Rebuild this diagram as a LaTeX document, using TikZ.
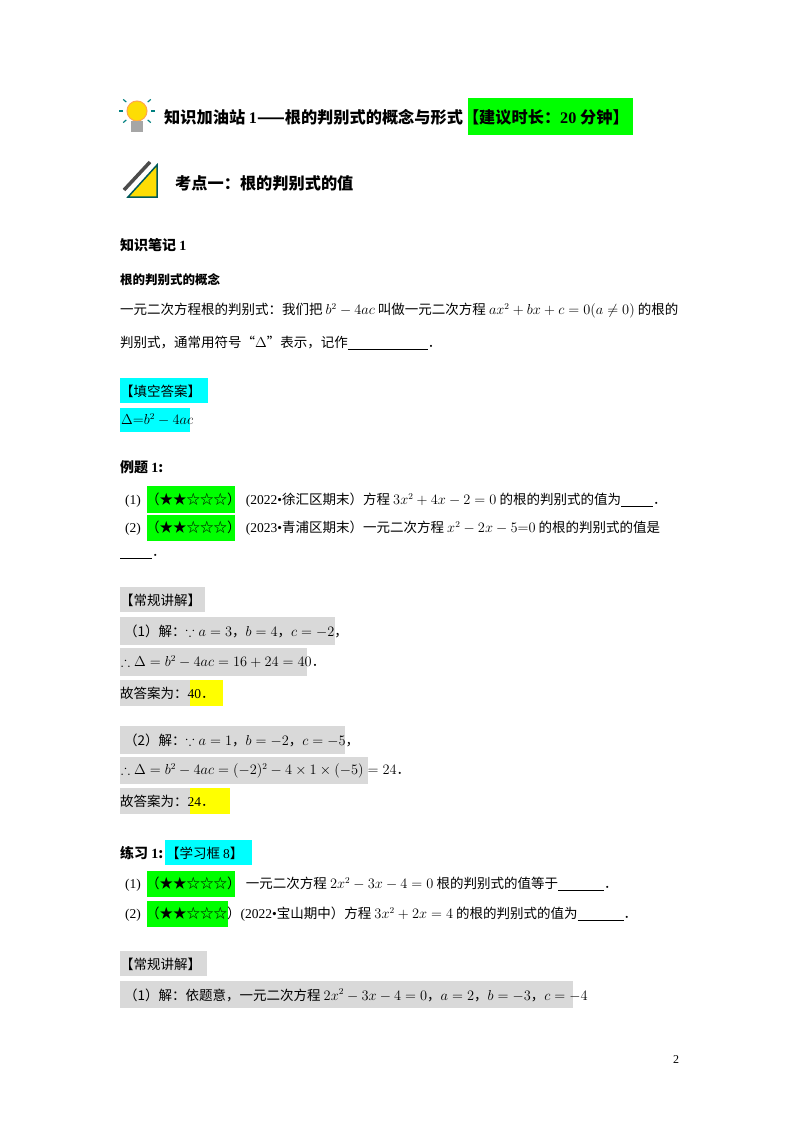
\documentclass[tikz,border=0pt]{standalone}
\usepackage{amssymb}
\usepackage{fontspec}
\setmainfont{Noto Sans CJK SC}
\newfontfamily\serifx{Liberation Serif}
\usepackage{xcolor}
\definecolor{hlgreen}{RGB}{0,255,0}
\definecolor{hlcyan}{RGB}{0,255,255}
\definecolor{hlgray}{RGB}{217,217,217}
\definecolor{hlyellow}{RGB}{255,255,0}
\begin{document}
\begin{tikzpicture}[x=1pt,y=-1pt,
  txt/.style={anchor=west,inner sep=0pt,font=\fontsize{13.5}{15}\selectfont},
  bold/.style={txt,font=\fontsize{14}{16}\selectfont\bfseries},
  big/.style={txt,font=\fontsize{16.2}{18}\selectfont\bfseries}]
\useasboundingbox[fill=white] (0,0) rectangle (800,1132);
% title
\fill[hlgreen] (468,98) rectangle (633,135);
\node[draw=orange!70,fill=yellow!80!orange,circle,minimum size=20pt,line width=1pt] (bulb) at (137,111) {};
\fill[gray!70] (131,121) rectangle (143,132);
\foreach \a in {0,40,140,180,220,320}{\draw[teal,line width=1.2pt] (137,111) ++(\a:14) -- ++(\a:4);}
\node[big] (t1) at (164,117) {知识加油站 {\serifx\bfseries 1}——根的判别式的概念与形式【建议时长：{\serifx\bfseries 20} 分钟】};
% kaodian
\fill[yellow!80!orange] (128,197) -- (157,165) -- (157,197) -- cycle;
\draw[teal!70!black,line width=1.5pt] (128,197) -- (157,165) -- (157,197) -- cycle;
\draw[gray!60!black,line width=3.5pt] (124,190) -- (150,162);
\node[big] (t2) at (175,183) {考点一：根的判别式的值};
\node[bold] (t3) at (120,245) {知识笔记 {\serifx\bfseries 1}};
\node[txt,font=\fontsize{12.5}{15}\selectfont\bfseries] (t4) at (120,280) {根的判别式的概念};
\node[txt] (l1) at (120,311) {一元二次方程根的判别式：我们把 $b^2-4ac$ 叫做一元二次方程 $ax^2+bx+c=0(a\neq0)$ 的根的};
\node[txt] (l2) at (120,343) {判别式，通常用符号“$\Delta$”表示，记作\underline{\hspace{80pt}}．};
\fill[hlcyan] (120,378) rectangle (208,403);
\node[txt] (a0) at (120,391) {【填空答案】};
\fill[hlcyan] (120,408) rectangle (190,432);
\node[txt] (a1) at (121,420) {$\Delta{=}b^2-4ac$};
\node[bold] (e1) at (120,467) {例题 {\serifx\bfseries 1}:};
\fill[hlgreen] (147,486) rectangle (235,513);
\fill[hlgreen] (147,515) rectangle (235,541);
\node[txt] (e11) at (125,500) {{\serifx (1)} \,（★★☆☆☆）\, {\serifx (2022•}徐汇区期末）方程 $3x^2+4x-2=0$ 的根的判别式的值为\underline{\hspace{32pt}}．};
\node[txt] (e12) at (125,528) {{\serifx (2)} \,（★★☆☆☆）\, {\serifx (2023•}青浦区期末）一元二次方程 $x^2-2x-5{=}0$ 的根的判别式的值是};
\node[txt] (e13) at (120,557) {\underline{\hspace{32pt}}．};
% solution 1
\fill[hlgray] (120,587) rectangle (205,612);
\node[txt] (s0) at (120,600) {【常规讲解】};
\fill[hlgray] (120,617) rectangle (335,645);
\node[txt] (s1) at (124,631) {（1）解：$\because a=3$，$b=4$，$c=-2$，};
\fill[hlgray] (120,648) rectangle (307,676);
\node[txt] (s2) at (121,662) {$\therefore\Delta=b^2-4ac=16+24=40$．};
\fill[hlgray] (120,680) rectangle (190,706);
\fill[hlyellow] (190,680) rectangle (223,706);
\node[txt] (s3) at (120,693) {故答案为：{\serifx 40}．};
\fill[hlgray] (120,726) rectangle (345,754);
\node[txt] (s4) at (124,740) {（2）解：$\because a=1$，$b=-2$，$c=-5$，};
\fill[hlgray] (120,757) rectangle (368,784);
\node[txt] (s5) at (121,771) {$\therefore\Delta=b^2-4ac=(-2)^2-4\times1\times(-5)=24$．};
\fill[hlgray] (120,788) rectangle (190,814);
\fill[hlyellow] (190,788) rectangle (230,814);
\node[txt] (s6) at (120,801) {故答案为：{\serifx 24}．};
% practice
\fill[hlcyan] (165,840) rectangle (252,865);
\node[bold] (p0) at (120,853) {练习 {\serifx\bfseries 1}:};
\node[txt] (p0b) at (166,853) {【学习框 {\serifx 8}】};
\fill[hlgreen] (147,871) rectangle (235,897);
\fill[hlgreen] (147,901) rectangle (228,927);
\node[txt] (p1) at (125,884) {{\serifx (1)} \,（★★☆☆☆）\, 一元二次方程 $2x^2-3x-4=0$ 根的判别式的值等于\underline{\hspace{46pt}}．};
\node[txt] (p2) at (125,914) {{\serifx (2)} \,（★★☆☆☆）{\serifx (2022•}宝山期中）方程 $3x^2+2x=4$ 的根的判别式的值为\underline{\hspace{46pt}}．};
\fill[hlgray] (120,951) rectangle (207,976);
\node[txt] (q0) at (120,964) {【常规讲解】};
\fill[hlgray] (120,981) rectangle (573,1008);
\node[txt] (q1) at (124,995) {（1）解：依题意，一元二次方程 $2x^2-3x-4=0$，$a=2$，$b=-3$，$c=-4$};
\node[txt,font=\fontsize{12}{14}\selectfont\serifx] (pg) at (673,1060) {2};
\end{tikzpicture}
\end{document}
